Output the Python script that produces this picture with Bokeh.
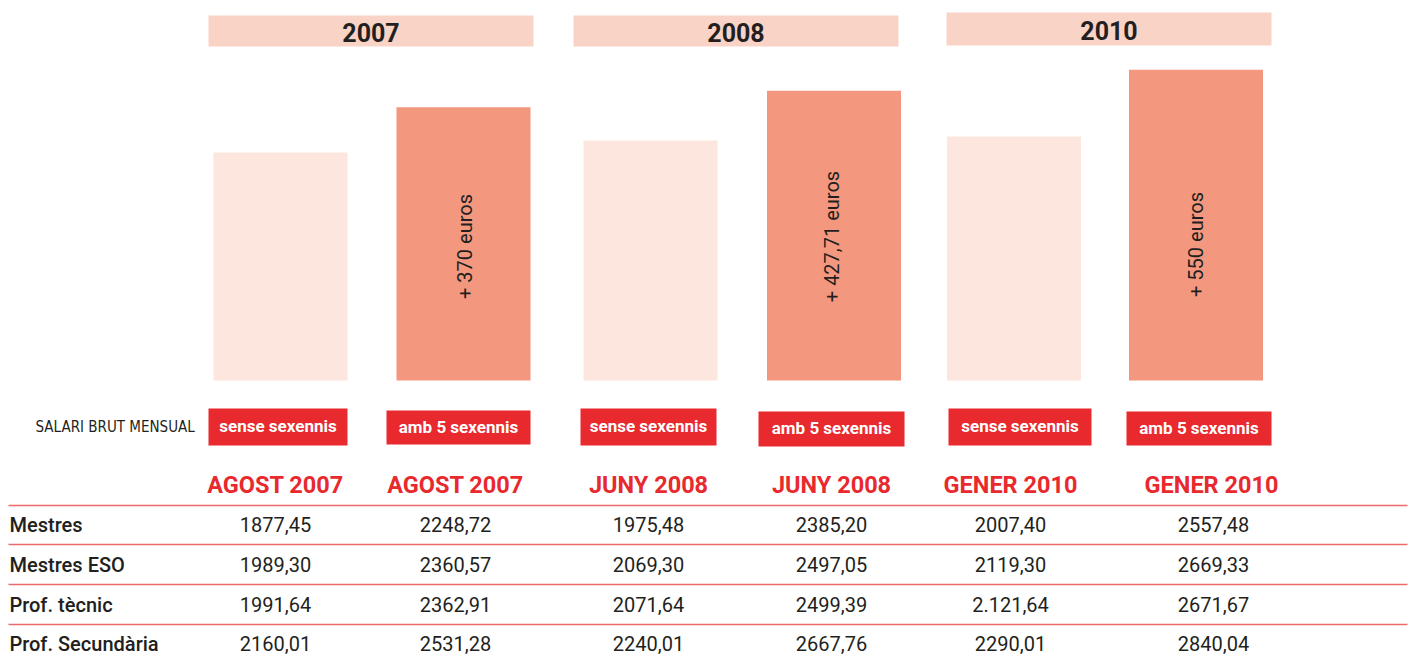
import math
from bokeh.plotting import figure
from bokeh.models import Range1d, ColumnDataSource
from bokeh.core.properties import value
from bokeh.embed import file_html
from bokeh.resources import INLINE

# ---- data ----
years = ["2007", "2008", "2010"]
col_headers = ["AGOST 2007", "AGOST 2007", "JUNY 2008", "JUNY 2008", "GENER 2010", "GENER 2010"]
col_types = ["sense sexennis", "amb 5 sexennis"] * 3
row_labels = ["Mestres", "Mestres ESO", "Prof. tècnic", "Prof. Secundària"]
mestres = ["1877,45", "2248,72", "1975,48", "2385,20", "2007,40", "2557,48"]
mestres_eso = ["1989,30", "2360,57", "2069,30", "2497,05", "2119,30", "2669,33"]
prof_tecnic = ["1991,64", "2362,91", "2071,64", "2499,39", "2.121,64", "2671,67"]
prof_secundaria = ["2160,01", "2531,28", "2240,01", "2667,76", "2290,01", "2840,04"]
bar_values = [1877.45, 2248.72, 1975.48, 2385.20, 2007.40, 2557.48]
diff_labels = ["+ 370 euros", "+ 427,71 euros", "+ 550 euros"]

# ---- layout (pixel space) ----
W, H = 1413, 656
X0, Y0 = 0, 0
base_y = 380
k = 0.1215  # px per euro

p = figure(width=W, height=H, output_backend="svg", toolbar_location=None,
           x_range=Range1d(X0, X0 + W), y_range=Range1d(Y0 + H, Y0),
           min_border=0, outline_line_color=None)
p.xaxis.visible = False
p.yaxis.visible = False
p.grid.visible = False
p.background_fill_color = "white"
p.border_fill_color = "white"
p.extra_y_ranges = {"eur": Range1d(-(Y0 + H - base_y) / k, (base_y - Y0) / k)}

FONT = value("Roboto")
FONT_N = value("'DejaVu Sans Condensed', 'Roboto', sans-serif")

# year header bands
band_left = [208, 573, 946]
band_right = [533, 898, 1271]
band_top = [15, 15, 12]
band_bot = [46, 46, 45]
p.quad(left=band_left, right=band_right, top=band_top, bottom=band_bot,
       fill_color="#F9D3C5", line_color=None)
p.text(x=[(a + b) / 2 for a, b in zip(band_left, band_right)],
       y=[(a + b) / 2 + 1 for a, b in zip(band_top, band_bot)], text=years,
       text_font=FONT, text_font_style="bold", text_font_size="25px",
       text_color="#231F20", text_align="center", text_baseline="middle")

# bars
bar_x = [280, 463, 650, 833.5, 1013.5, 1195.5]
bar_colors = ["#FDE6DE", "#F3987F"] * 3
src = ColumnDataSource(dict(x=bar_x, top=bar_values, color=bar_colors))
p.vbar(x="x", top="top", bottom=0, width=134, fill_color="color",
       line_color=None, source=src, y_range_name="eur")

# rotated difference labels
p.text(x=[bar_x[1] + 1, bar_x[3] - 2, bar_x[5]], y=[246, 236, 244], text=diff_labels,
       angle=math.pi / 2, text_font=FONT, text_font_size="20px",
       text_color="#231F20", text_align="center", text_baseline="middle")

# "SALARI BRUT MENSUAL"
p.text(x=[35], y=[426], text=["SALARI BRUT MENSUAL"], text_font=FONT_N,
       text_font_size="15px", text_color="#231F20", text_align="left",
       text_baseline="middle")

# red type boxes
box_left = [208, 386, 580, 758, 948, 1126]
box_right = [347, 530, 716, 904, 1091, 1271]
box_top = [408, 410, 408, 411, 408, 411]
box_bot = [445, 444, 445, 446, 445, 445]
p.quad(left=box_left, right=box_right, top=box_top, bottom=box_bot,
       fill_color="#E8292E", line_color=None)
p.text(x=[(a + b) / 2 for a, b in zip(box_left, box_right)],
       y=[(a + b) / 2 - 1 for a, b in zip(box_top, box_bot)], text=col_types,
       text_font=FONT, text_font_style="bold", text_font_size="17px",
       text_color="white", text_align="center", text_baseline="middle")

# column headers
col_x = [275, 455, 648, 831, 1010, 1211]
p.text(x=col_x, y=[484] * 6, text=col_headers, text_font=FONT,
       text_font_style="bold", text_font_size="23.5px", text_color="#E8292E",
       text_align="center", text_baseline="middle")

# table separators
for yy in [505, 544, 584, 624]:
    p.segment(x0=[8], x1=[1407], y0=[yy], y1=[yy], line_color="#EE6A6A", line_width=1.5)

# table rows
row_y = [524, 564, 604, 643]
val_x = [275, 455, 648, 831, 1010, 1213]
p.text(x=[9] * 4, y=row_y, text=row_labels, text_font=value("Roboto Medium"),
       text_font_size="20px",
       text_color="#231F20", text_align="left", text_baseline="middle")
for yy, vals in zip(row_y, [mestres, mestres_eso, prof_tecnic, prof_secundaria]):
    p.text(x=val_x, y=[yy] * 6, text=vals, text_font=FONT, text_font_size="20px",
           text_color="#231F20", text_align="center", text_baseline="middle")

open("out.html", "w").write(file_html(p, INLINE))
